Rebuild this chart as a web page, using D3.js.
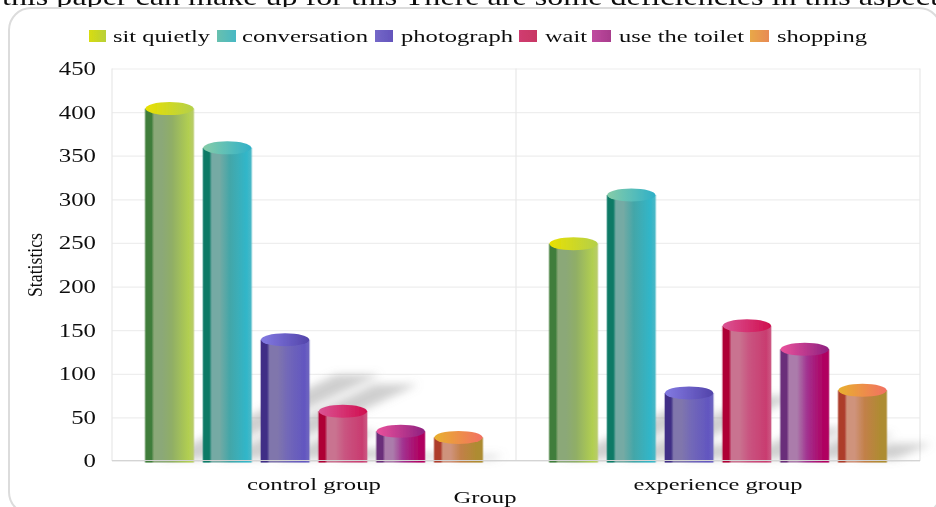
<!DOCTYPE html>
<html><head><meta charset="utf-8">
<style>html,body{margin:0;background:#fff;overflow:hidden}svg{display:block}text{font-family:"Liberation Serif",serif;fill:#111}</style>
<script src="https://cdn.jsdelivr.net/npm/d3@7/dist/d3.min.js"></script>
</head><body><svg id="c" width="936" height="507"></svg>
<script>
const groups = ["control group", "experience group"];
const seriesNames = ["sit quietly", "conversation", "photograph", "wait", "use the toilet", "shopping"];
const controlValues = [404, 359, 139, 57, 34, 27];
const experienceValues = [249, 305, 78, 155, 128, 81];
const yTicks = [0, 50, 100, 150, 200, 250, 300, 350, 400, 450];
const bodyColors = [
  ["#3f7d3a","#8ba878","#90ae66","#b2cf50","#b9cc6c"],
  ["#0a7a66","#74aaa4","#44a6a8","#31b6c9","#4cb8c6"],
  ["#3f2f86","#8076ac","#7268b8","#6256c0","#6e66c0"],
  ["#ae0634","#c97390","#c95480","#c93c70","#cc5a84"],
  ["#6a2f7a","#ab7cab","#a23290","#b00060","#b0005f"],
  ["#ad3c2c","#cf937c","#c28048","#ad8c30","#ad8c30"]];
const capColors = [["#e9e000","#b4d04a"],["#86cca8","#2fb0c8"],["#837ae2","#5244aa"],["#da5494","#d00e4e"],["#ea529c","#8e2080"],["#e8b02e","#f27062"]];
const swatchColors = [["#d8dc10","#b8d038"],["#68c0ae","#48b8c4"],["#7468c8","#6454bc"],["#d03c70","#c83864"],["#c04aa0","#a83c8c"],["#e8a848","#e88a54"]];
const legendX = [[89,106,113,210],[217,236,242,368],[375,393,401,513],[519,537,545,587],[592,611,619,744],[750,769,777,867]];

const svg = d3.select("#c");
const plot = {l:112, r:920, t:68.5, b:461};
const y = d3.scaleLinear().domain([0,450]).range([plot.b, plot.t]);
const x0 = d3.scaleBand().domain(groups).range([plot.l, plot.r]);
const x1 = d3.scaleBand().domain(seriesNames).range([0, x0.bandwidth()]).paddingInner(0.165).paddingOuter(0.578);
const ry = 6.5;

function fit(sel, len){ sel.attr("textLength", len).attr("lengthAdjust","spacingAndGlyphs"); return sel; }

const defs = svg.append("defs");
const grad = (id, stops) => {
  const g = defs.append("linearGradient").attr("id", id);
  stops.forEach(([o,c]) => g.append("stop").attr("offset", o).attr("stop-color", c));
};
seriesNames.forEach((_,i) => {
  const b = bodyColors[i];
  grad("body"+i, [[0,b[0]],[.125,b[0]],[.18,b[1]],[.34,b[1]],[.55,b[2]],[.9,b[3]],[1,b[4]]]);
  grad("cap"+i, [[0,capColors[i][0]],[1,capColors[i][1]]]);
  grad("sw"+i, [[0,swatchColors[i][0]],[1,swatchColors[i][1]]]);
});
defs.append("filter").attr("id","shadowBlur").attr("x","-30%").attr("y","-30%").attr("width","160%").attr("height","160%")
  .append("feGaussianBlur").attr("stdDeviation",4);
defs.append("filter").attr("id","soft").attr("x","-10%").attr("y","-10%").attr("width","120%").attr("height","120%")
  .append("feGaussianBlur").attr("stdDeviation",0.7);
defs.append("filter").attr("id","txt").append("feGaussianBlur").attr("stdDeviation",0.35);

// page text behind the chart, cropped at the top edge
fit(svg.append("text").attr("x",2).attr("y",5).attr("font-size",25).attr("filter","url(#txt)")
  .text("this paper can make up for this There are some deficiencies in this aspect."), 945);

svg.append("rect").attr("x",9).attr("y",8).attr("width",932).attr("height",506).attr("rx",22)
  .attr("fill","#fff").attr("stroke","#dcdcdc").attr("stroke-width",2);

// grid
const grid = svg.append("g").attr("transform",`translate(${plot.l},0)`)
  .call(d3.axisLeft(y).tickValues(yTicks).tickSize(-(plot.r-plot.l)).tickFormat(""));
grid.select(".domain").remove();
grid.selectAll("line").attr("stroke","#eeeeee").attr("stroke-width",1.2);
svg.selectAll(null).data([plot.l, x0(groups[1]), plot.r]).join("line")
  .attr("x1",d=>d).attr("x2",d=>d).attr("y1",plot.t).attr("y2",plot.b)
  .attr("stroke","#e8e8e8").attr("stroke-width",1.2);

// y labels
const yAxis = svg.append("g").attr("transform","translate(96,0)")
  .call(d3.axisLeft(y).tickValues(yTicks).tickSize(0).tickPadding(0));
yAxis.select(".domain").remove();
yAxis.selectAll("text").attr("font-size",18.5).attr("dy","0.32em").attr("fill","#111")
  .attr("font-family","Liberation Serif").attr("filter","url(#txt)")
  .each(function(d){ d3.select(this).attr("textLength", String(d).length*12.4).attr("lengthAdjust","spacingAndGlyphs"); });

const data = groups.map((g,gi) => ({g, vals: gi===0 ? controlValues : experienceValues}));

// cast shadows
const shadows = svg.append("g").attr("filter","url(#shadowBlur)");
data.forEach(({g,vals}) => vals.forEach((v,i) => {
  const s = seriesNames[i], bw = x1.bandwidth(), x = x0(g)+x1(s);
  const h = plot.b - y(v);
  const dx = h*0.5, dy = h*0.245;
  const pts = [[x+bw*0.3,plot.b-2],[x+bw+8,plot.b-2],[x+bw+dx+10,plot.b-dy],[x+bw*0.3+dx,plot.b-dy]];
  shadows.append("polygon").attr("points",pts.join(" ")).attr("fill","#8c8c8c").attr("opacity",0.42);
}));

// cylinders, each with a faint halo round its edge
const bars = svg.append("g").attr("filter","url(#soft)");
data.forEach(({g,vals}) => vals.forEach((v,i) => {
  const s = seriesNames[i], bw = x1.bandwidth(), x = x0(g)+x1(s), t = y(v);
  bars.append("rect").attr("x",x-1).attr("y",t).attr("width",bw+2).attr("height",plot.b+1.5-t)
    .attr("fill",`url(#body${i})`).attr("opacity",0.35);
  bars.append("rect").attr("x",x).attr("y",t).attr("width",bw).attr("height",plot.b+1.5-t)
    .attr("fill",`url(#body${i})`);
  bars.append("ellipse").attr("cx",x+bw/2).attr("cy",t).attr("rx",bw/2).attr("ry",ry)
    .attr("fill",`url(#cap${i})`);
}));

// baseline crosses the feet of the cylinders
svg.append("line").attr("x1",plot.l).attr("x2",plot.r).attr("y1",plot.b-0.5).attr("y2",plot.b-0.5)
  .attr("stroke","#d4d4d4").attr("stroke-width",1.2);

// legend
seriesNames.forEach((s,i) => {
  const [a,b,c,d] = legendX[i];
  svg.append("rect").attr("x",a).attr("y",30).attr("width",b-a).attr("height",12)
    .attr("fill",`url(#sw${i})`).attr("filter","url(#txt)");
  fit(svg.append("text").attr("x",c).attr("y",41.5).attr("font-size",17.5).attr("filter","url(#txt)").text(s), d-c);
});

// category and axis labels
const catW = [134,169];
groups.forEach((g,i) => {
  fit(svg.append("text").attr("x",x0(g)+x0.bandwidth()/2).attr("y",490).attr("text-anchor","middle")
    .attr("font-size",17.5).attr("filter","url(#txt)").text(g), catW[i]);
});
fit(svg.append("text").attr("x",485).attr("y",503).attr("text-anchor","middle").attr("font-size",17.5)
  .attr("filter","url(#txt)").text("Group"), 63);
fit(svg.append("text").attr("transform","translate(42,265) rotate(-90)").attr("text-anchor","middle")
  .attr("font-size",20).attr("filter","url(#txt)").text("Statistics"), 64);
</script></body></html>
